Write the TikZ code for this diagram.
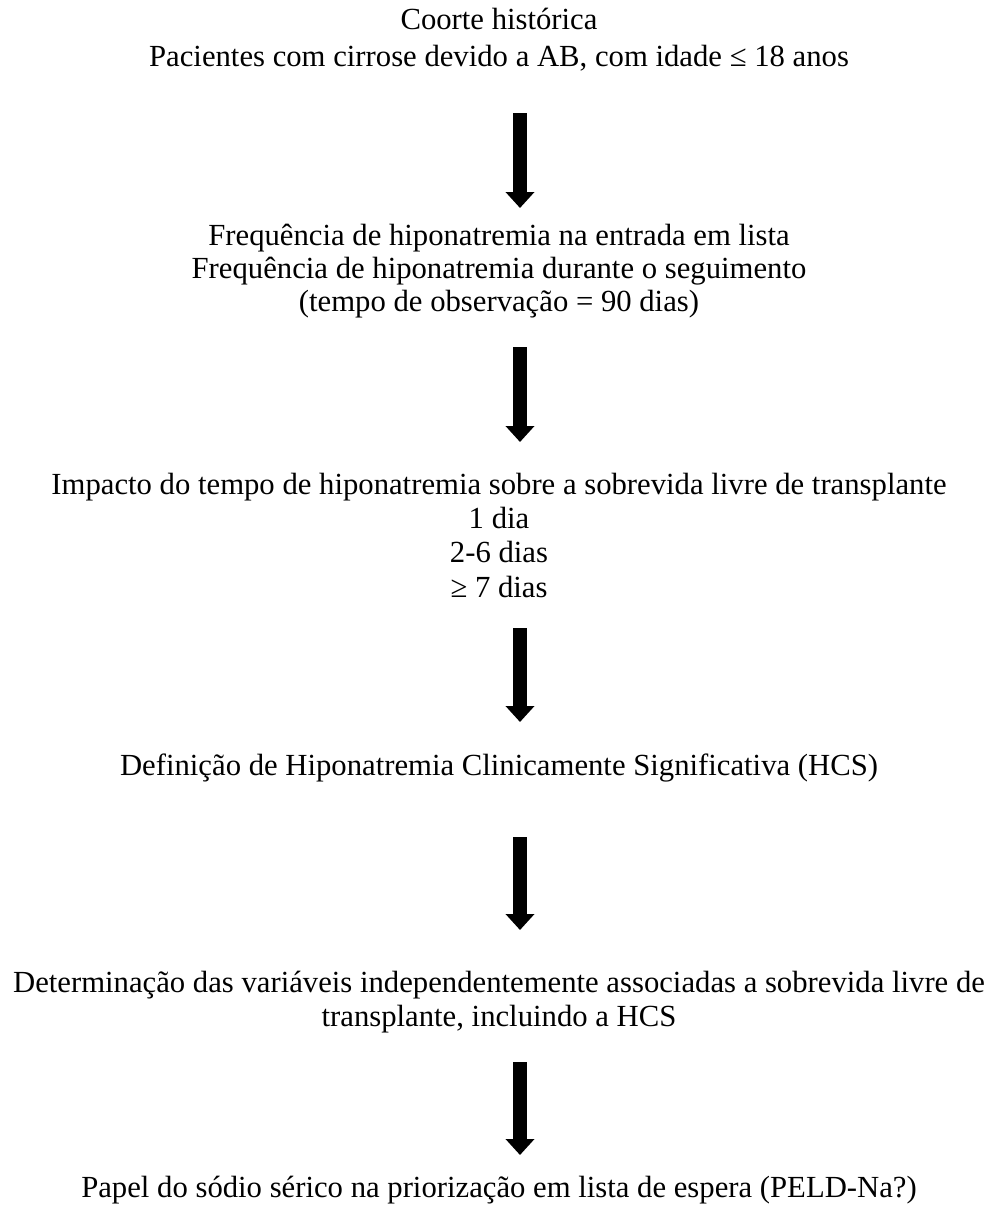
\documentclass[tikz,border=0pt]{standalone}
\usepackage{fontspec}
\setmainfont{Liberation Serif}
\usetikzlibrary{arrows.meta}
\tikzset{
  txt/.style={anchor=base, inner sep=0pt, font=\fontsize{30.7}{34}\selectfont},
  bigarrow/.style={line width=14pt, -{Triangle[width=28pt,length=16pt]}, black}
}
\begin{document}
\begin{tikzpicture}[x=1pt,y=1pt]
\useasboundingbox (0,0) rectangle (994,-1210);
\def\cx{499}
% block 1
\node[txt] (b1a) at (\cx,-29) {Coorte histórica};
\node[txt] (b1b) at (\cx,-66) {Pacientes com cirrose devido a AB, com idade ≤ 18 anos};
% block 2
\node[txt] (b2a) at (\cx,-245) {Frequência de hiponatremia na entrada em lista};
\node[txt] (b2b) at (\cx,-278) {Frequência de hiponatremia durante o seguimento};
\node[txt] (b2c) at (\cx,-311) {(tempo de observação = 90 dias)};
% block 3
\node[txt] (b3a) at (\cx,-494) {Impacto do tempo de hiponatremia sobre a sobrevida livre de transplante};
\node[txt] (b3b) at (\cx,-528) {1 dia};
\node[txt] (b3c) at (\cx,-562) {2-6 dias};
\node[txt] (b3d) at (\cx,-597) {≥ 7 dias};
% block 4
\node[txt] (b4a) at (\cx,-775) {Definição de Hiponatremia Clinicamente Significativa (HCS)};
% block 5
\node[txt] (b5a) at (\cx,-992) {Determinação das variáveis independentemente associadas a sobrevida livre de};
\node[txt] (b5b) at (\cx,-1026) {transplante, incluindo a HCS};
% block 6
\node[txt] (b6a) at (\cx,-1197) {Papel do sódio sérico na priorização em lista de espera (PELD-Na?)};
% arrow end points
\coordinate (a1s) at (520,-113); \coordinate (a1e) at (520,-208);
\coordinate (a2s) at (520,-347); \coordinate (a2e) at (520,-442);
\coordinate (a3s) at (520,-628); \coordinate (a3e) at (520,-722);
\coordinate (a4s) at (520,-837); \coordinate (a4e) at (520,-930);
\coordinate (a5s) at (520,-1062); \coordinate (a5e) at (520,-1155);
\draw[bigarrow] (a1s) -- (a1e);
\draw[bigarrow] (a2s) -- (a2e);
\draw[bigarrow] (a3s) -- (a3e);
\draw[bigarrow] (a4s) -- (a4e);
\draw[bigarrow] (a5s) -- (a5e);
\end{tikzpicture}
\end{document}
